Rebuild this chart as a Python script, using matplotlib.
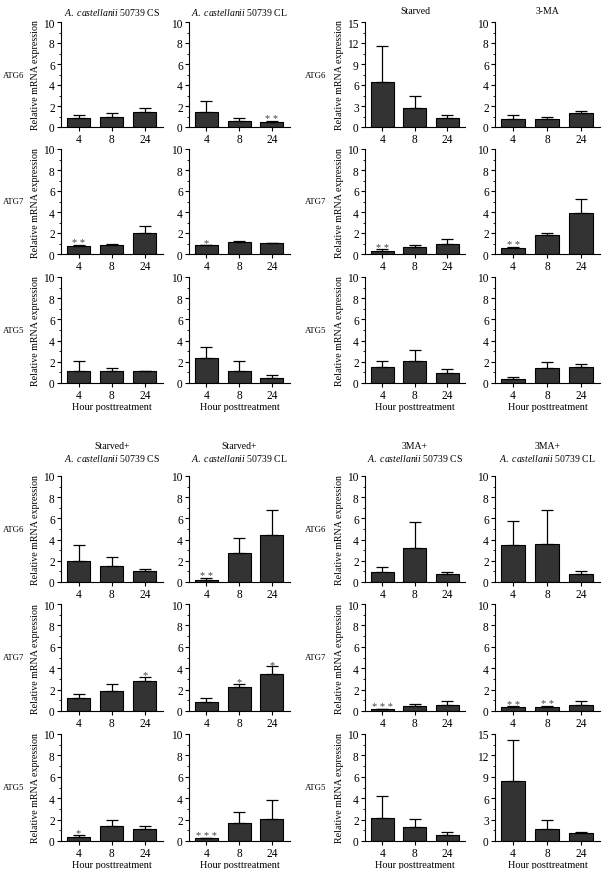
import numpy as np
import matplotlib
matplotlib.use('Agg')
import matplotlib.pyplot as plt
from matplotlib.ticker import MultipleLocator

plt.rcParams['font.family'] = ['Liberation Serif', 'DejaVu Serif']
plt.rcParams['mathtext.fontset'] = 'custom'
plt.rcParams['mathtext.rm'] = 'Liberation Serif'
plt.rcParams['mathtext.it'] = 'Liberation Serif:italic'

hours = ['4', '8', '24']
genes = ['ATG6', 'ATG7', 'ATG5']

# top block: rows ATG6, ATG7, ATG5 ; each row = values at 4, 8, 24 h
cs_mean = [[0.9, 1.0, 1.47], [0.75, 0.85, 2.0], [1.1, 1.1, 1.1]]
cs_err = [[0.22, 0.33, 0.3], [0.08, 0.1, 0.63], [0.95, 0.3, 0.06]]
cs_stars = [['', '', ''], ['**', '', ''], ['', '', '']]

cl_mean = [[1.4, 0.55, 0.45], [0.82, 1.17, 1.04], [2.4, 1.1, 0.45]]
cl_err = [[1.07, 0.28, 0.1], [0.05, 0.06, 0.05], [1.0, 0.95, 0.35]]
cl_stars = [['', '', '**'], ['*', '', ''], ['', '', '']]

starved_mean = [[6.5, 2.7, 1.35], [0.3, 0.62, 0.93], [1.52, 2.1, 0.97]]
starved_err = [[5.1, 1.8, 0.35], [0.13, 0.26, 0.5], [0.55, 1.0, 0.34]]
starved_stars = [['', '', ''], ['**', '', ''], ['', '', '']]

ma_mean = [[0.76, 0.8, 1.3], [0.53, 1.82, 3.9], [0.37, 1.4, 1.53]]
ma_err = [[0.35, 0.15, 0.22], [0.1, 0.16, 1.3], [0.2, 0.6, 0.3]]
ma_stars = [['', '', ''], ['**', '', ''], ['', '', '']]

# bottom block
st_cs_mean = [[2.0, 1.47, 1.07], [1.22, 1.88, 2.78], [0.34, 1.44, 1.1]]
st_cs_err = [[1.46, 0.88, 0.13], [0.38, 0.62, 0.44], [0.22, 0.56, 0.3]]
st_cs_stars = [['', '', ''], ['', '', '*'], ['*', '', '']]

st_cl_mean = [[0.2, 2.7, 4.4], [0.88, 2.25, 3.47], [0.25, 1.69, 2.1]]
st_cl_err = [[0.15, 1.42, 2.36], [0.3, 0.28, 0.69], [0.06, 1.06, 1.72]]
st_cl_stars = [['**', '', ''], ['', '*', '*'], ['***', '', '']]

ma_cs_mean = [[0.97, 3.2, 0.8], [0.15, 0.5, 0.6], [2.17, 1.27, 0.6]]
ma_cs_err = [[0.47, 2.5, 0.16], [0.05, 0.18, 0.33], [2.0, 0.78, 0.25]]
ma_cs_stars = [['', '', ''], ['***', '', ''], ['', '', '']]

ma_cl_mean = [[3.5, 3.63, 0.75], [0.33, 0.33, 0.6], [8.4, 1.72, 1.07]]
ma_cl_err = [[2.28, 3.2, 0.31], [0.1, 0.15, 0.3], [5.7, 1.26, 0.23]]
ma_cl_stars = [['', '', ''], ['**', '**', ''], ['', '', '']]

ac = r'$\it{A.\ castellanii}$'
top_titles = [ac + ' 50739 CS', ac + ' 50739 CL', 'Starved', '3-MA']
bot_titles = ['Starved+\n' + ac + ' 50739 CS', 'Starved+\n' + ac + ' 50739 CL',
              '3MA+\n' + ac + ' 50739 CS', '3MA+\n' + ac + ' 50739 CL']

top_data = [(cs_mean, cs_err, cs_stars), (cl_mean, cl_err, cl_stars),
            (starved_mean, starved_err, starved_stars), (ma_mean, ma_err, ma_stars)]
bot_data = [(st_cs_mean, st_cs_err, st_cs_stars), (st_cl_mean, st_cl_err, st_cl_stars),
            (ma_cs_mean, ma_cs_err, ma_cs_stars), (ma_cl_mean, ma_cl_err, ma_cl_stars)]

W, H = 604, 870
fig = plt.figure(figsize=(W / 100, H / 100), dpi=100)

col_x = [(61, 163), (189, 290), (365, 465), (495, 600)]
top_rows = [(23, 128), (150, 255), (278, 384)]
bot_rows = [(477, 583), (605, 712), (735, 842)]

x = np.arange(3)
fs = 8.3


def panel(px, py, mean, err, stars, ylabel, xlabel):
    ax = fig.add_axes([px[0] / W, 1 - py[1] / H, (px[1] - px[0]) / W, (py[1] - py[0]) / H])
    ax.bar(x, mean, width=0.7, color='#333333', edgecolor='black', linewidth=0.8,
           yerr=[np.zeros(3), err], error_kw=dict(ecolor='black', elinewidth=0.9,
                                                  capsize=4, capthick=0.9))
    top = 15 if max(np.array(mean) + np.array(err)) > 10 else 10
    ax.set_ylim(0, top)
    ax.set_xlim(-0.53, 2.55)
    if top == 15:
        ax.yaxis.set_major_locator(MultipleLocator(3))
        ax.yaxis.set_minor_locator(MultipleLocator(1.5))
    else:
        ax.yaxis.set_major_locator(MultipleLocator(2))
        ax.yaxis.set_minor_locator(MultipleLocator(1))
    ax.set_xticks(x)
    ax.set_xticklabels(hours)
    for s in ['top', 'right']:
        ax.spines[s].set_visible(False)
    for s in ['left', 'bottom']:
        ax.spines[s].set_linewidth(0.8)
    ax.tick_params(axis='both', labelsize=fs, width=0.8, length=3, pad=1.5)
    ax.tick_params(axis='y', which='minor', width=0.6, length=1.8)
    for i in range(3):
        if stars[i]:
            ax.text(x[i], mean[i] + err[i] - top * 0.02, ' '.join(stars[i]), ha='center',
                    va='bottom', fontsize=7.5, color='#444444')
    if ylabel:
        ax.set_ylabel('Relative mRNA expression', fontsize=7.2, labelpad=2)
    if xlabel:
        ax.set_xlabel('Hour posttreatment', fontsize=7.4, labelpad=0.5)
    return ax


for rows, data, titles, title_y in [(top_rows, top_data, top_titles, 12),
                                     (bot_rows, bot_data, bot_titles, 453)]:
    for c in range(4):
        mean, err, stars = data[c]
        for r in range(3):
            panel(col_x[c], rows[r], mean[r], err[r], stars[r],
                  ylabel=(c % 2 == 0), xlabel=(r == 2))
        cx = (col_x[c][0] + col_x[c][1]) / 2
        fig.text(cx / W, 1 - title_y / H, titles[c], ha='center', va='center',
                 fontsize=7, linespacing=1.3)
    for r in range(3):
        yc = (rows[r][0] + rows[r][1]) / 2
        for lx in [3, 305]:
            fig.text(lx / W, 1 - yc / H, genes[r], ha='left', va='center', fontsize=6.3)

fig.savefig('out.png', dpi=100)
